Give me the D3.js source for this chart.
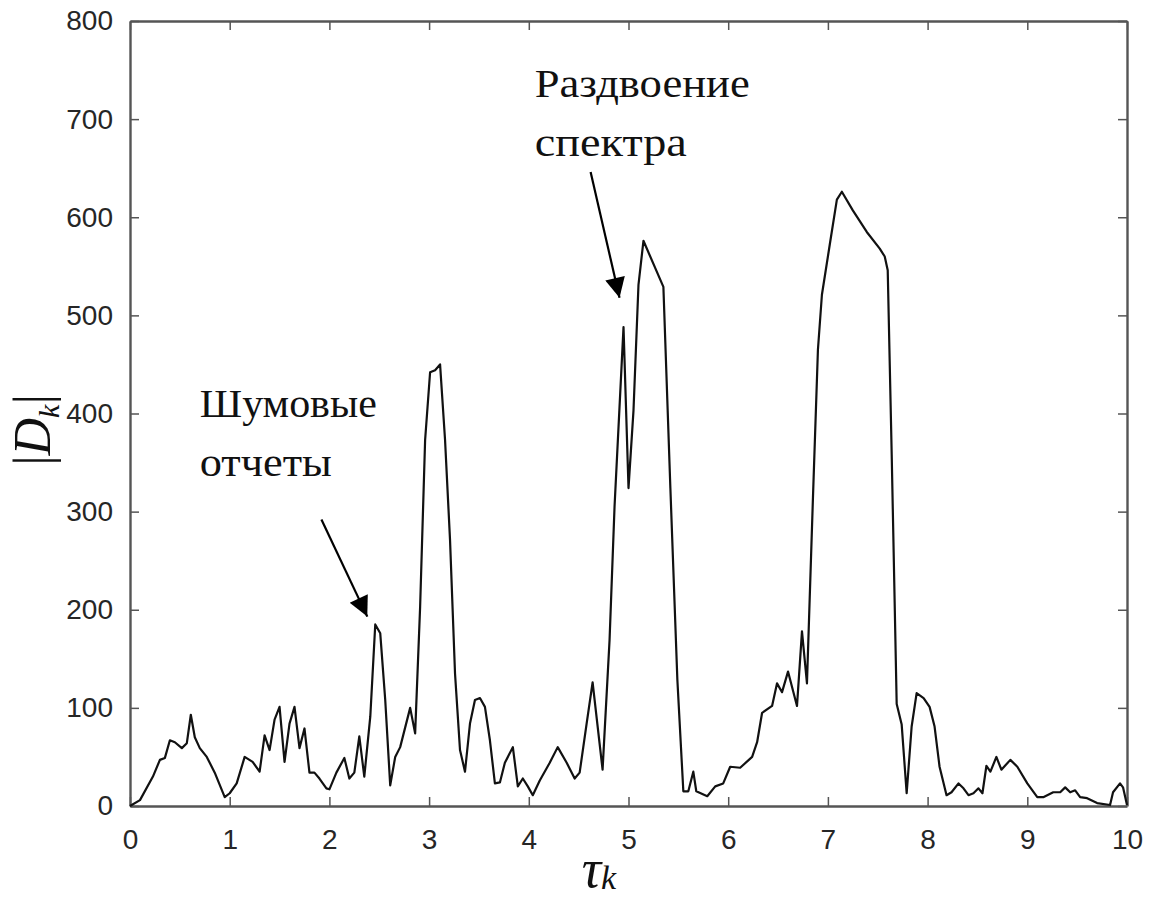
<!DOCTYPE html>
<html>

<head>
  <meta charset="utf-8">
  <title>|Dk| от tau</title>
  <script src="https://cdn.jsdelivr.net/npm/d3@7"></script>
  <style>
    body { margin: 0; background: #fff; }
  </style>
</head>

<body>
  <div id="chart"></div>

  <script>
    // Значения
    const tau = [0, 0.1, 0.23, 0.3, 0.35, 0.4, 0.45, 0.52, 0.57, 0.61, 0.65, 0.7, 0.77, 0.85, 0.95, 1.0, 1.07, 1.15, 1.23, 1.3,
      1.35, 1.4, 1.45, 1.5, 1.55, 1.6, 1.65, 1.7, 1.75, 1.8, 1.85, 1.9, 1.97, 2.0, 2.07, 2.15, 2.2, 2.25, 2.3, 2.35,
      2.41, 2.46, 2.51, 2.56, 2.61, 2.66, 2.71, 2.81, 2.86, 2.91, 2.96, 3.01, 3.06, 3.11, 3.16, 3.21, 3.26, 3.31, 3.36, 3.41,
      3.46, 3.51, 3.56, 3.61, 3.66, 3.71, 3.76, 3.84, 3.89, 3.94, 3.99, 4.04, 4.11, 4.21, 4.29, 4.38, 4.46, 4.51, 4.58, 4.64,
      4.74, 4.81, 4.86, 4.95, 5.0, 5.05, 5.1, 5.15, 5.35, 5.42, 5.49, 5.55, 5.6, 5.65, 5.68, 5.79, 5.87, 5.95, 6.02, 6.12,
      6.24, 6.29, 6.34, 6.44, 6.49, 6.54, 6.6, 6.69, 6.74, 6.79, 6.85, 6.9, 6.94, 7.02, 7.09, 7.14, 7.25, 7.39, 7.52, 7.57,
      7.6, 7.64, 7.69, 7.74, 7.79, 7.84, 7.89, 7.96, 8.02, 8.07, 8.12, 8.19, 8.24, 8.31, 8.36, 8.41, 8.46, 8.51, 8.55, 8.59,
      8.63, 8.69, 8.74, 8.83, 8.9, 9.0, 9.1, 9.16, 9.26, 9.33, 9.38, 9.43, 9.48, 9.53, 9.6, 9.7, 9.83, 9.86, 9.93, 9.96, 10.0];
    const Dk = [0, 6, 30, 47, 49, 67, 65, 59, 64, 93, 70, 59, 50, 34, 9, 13, 23, 50, 45, 35,
      72, 57, 88, 101, 45, 84, 101, 59, 79, 34, 34, 28, 18, 17, 34, 49, 28, 34, 71, 30,
      91, 185, 176, 108, 21, 50, 60, 100, 74, 203, 373, 442, 444, 450, 373, 271, 135, 57, 35, 84,
      108, 110, 101, 67, 23, 24, 44, 60, 20, 28, 20, 11, 26, 44, 60, 44, 28, 34, 84, 126,
      37, 169, 305, 488, 324, 403, 531, 576, 529, 324, 129, 15, 15, 35, 15, 10, 20, 23, 40, 39,
      50, 65, 95, 102, 125, 116, 137, 102, 178, 125, 314, 465, 521, 573, 618, 626, 607, 585, 568, 560,
      546, 358, 104, 83, 13, 81, 115, 110, 101, 81, 40, 11, 14, 23, 18, 11, 13, 18, 13, 41,
      35, 50, 37, 47, 40, 23, 9, 9, 14, 14, 19, 14, 16, 9, 8, 3, 1, 14, 23, 19, 1];

    const xTicks = [0, 1, 2, 3, 4, 5, 6, 7, 8, 9, 10];
    const yTicks = [0, 100, 200, 300, 400, 500, 600, 700, 800];

    // Подписи со стрелками (координаты в единицах данных)
    const notes = [
      { lines: ["Шумовые", "отчеты"], widths: [177, 132], x: 0.7, y: 396, from: [1.92, 292], to: [2.38, 193] },
      { lines: ["Раздвоение", "спектра"], widths: [215, 152], x: 4.06, y: 723, from: [4.62, 646], to: [4.91, 518] }
    ];

    const W = 1152, H = 898;
    const mLeft = 130, mRight = 1127, mTop = 21, mBottom = 806;
    const axisColor = "#555";
    const textColor = "#262626";

    const x = d3.scaleLinear().domain([0, 10]).range([mLeft, mRight]);
    const y = d3.scaleLinear().domain([0, 800]).range([mBottom, mTop]);

    const svg = d3.select("#chart")
      .append("svg")
      .attr("width", W)
      .attr("height", H)
      .style("background", "#fff");

    // Оси (ticks внутрь, как в MATLAB)
    const xb = svg.append("g")
      .attr("transform", "translate(0," + mBottom + ")")
      .call(d3.axisBottom(x).tickValues(xTicks).tickFormat(d3.format("d")).tickSizeInner(-9).tickSizeOuter(0).tickPadding(23));
    const yl = svg.append("g")
      .attr("transform", "translate(" + mLeft + ",0)")
      .call(d3.axisLeft(y).tickValues(yTicks).tickFormat(d3.format("d")).tickSizeInner(-9).tickSizeOuter(0).tickPadding(17));
    const xt = svg.append("g")
      .attr("transform", "translate(0," + mTop + ")")
      .call(d3.axisTop(x).tickValues(xTicks).tickFormat("").tickSizeInner(-9).tickSizeOuter(0));
    const yr = svg.append("g")
      .attr("transform", "translate(" + mRight + ",0)")
      .call(d3.axisRight(y).tickValues(yTicks).tickFormat("").tickSizeInner(-9).tickSizeOuter(0));

    [xb, yl, xt, yr].forEach(function (g) {
      g.select(".domain").attr("stroke", axisColor).attr("stroke-width", 2.4);
      g.selectAll(".tick line").attr("stroke", axisColor).attr("stroke-width", 1.5);
      g.selectAll(".tick text")
        .attr("fill", textColor)
        .attr("font-family", "'Liberation Sans', Arial, sans-serif")
        .attr("font-size", "28px");
    });

    // Кривая
    const pts = tau.map(function (t, i) { return [t, Dk[i]]; });
    svg.append("path")
      .datum(pts)
      .attr("fill", "none")
      .attr("stroke", "#111")
      .attr("stroke-width", 2.2)
      .attr("stroke-linejoin", "round")
      .attr("d", d3.line()
        .x(function (d) { return x(d[0]); })
        .y(function (d) { return y(d[1]); }));

    // Стрелки
    svg.append("defs").append("marker")
      .attr("id", "arrow")
      .attr("viewBox", "0 0 10 10")
      .attr("refX", 10)
      .attr("refY", 5)
      .attr("markerWidth", 25)
      .attr("markerHeight", 20)
      .attr("markerUnits", "userSpaceOnUse")
      .attr("orient", "auto")
      .append("path")
      .attr("d", "M0,0 L10,5 L0,10 Z")
      .attr("fill", "#000");

    notes.forEach(function (n) {
      const t = svg.append("text")
        .attr("font-family", "'Liberation Serif', 'Times New Roman', serif")
        .attr("font-size", "40px")
        .attr("fill", "#111");
      n.lines.forEach(function (s, i) {
        t.append("tspan")
          .attr("x", x(n.x))
          .attr("y", y(n.y) + i * 59)
          .attr("textLength", n.widths[i])
          .attr("lengthAdjust", "spacingAndGlyphs")
          .text(s);
      });
      svg.append("line")
        .attr("x1", x(n.from[0]))
        .attr("y1", y(n.from[1]))
        .attr("x2", x(n.to[0]))
        .attr("y2", y(n.to[1]))
        .attr("stroke", "#000")
        .attr("stroke-width", 2.2)
        .attr("marker-end", "url(#arrow)");
    });

    // Подпись оси Y: |D_k|
    const ylab = svg.append("text")
      .attr("transform", "translate(50,430) rotate(-90)")
      .attr("text-anchor", "middle")
      .attr("font-family", "'Liberation Serif', 'Times New Roman', serif")
      .attr("font-size", "52px")
      .attr("fill", "#111");
    ylab.append("tspan").text("|");
    ylab.append("tspan").attr("font-style", "italic").text("D");
    ylab.append("tspan").attr("font-style", "italic").attr("font-size", "30px").attr("dy", 9).text("k");
    ylab.append("tspan").attr("dy", -9).text("|");

    // Подпись оси X: tau_k
    const xlab = svg.append("text")
      .attr("x", 599)
      .attr("y", 887)
      .attr("text-anchor", "middle")
      .attr("font-family", "'Liberation Serif', 'Times New Roman', serif")
      .attr("font-style", "italic")
      .attr("font-size", "54px")
      .attr("fill", "#111");
    xlab.append("tspan").text("τ");
    xlab.append("tspan").attr("font-size", "34px").attr("dy", 2).text("k");
  </script>
</body>

</html>
